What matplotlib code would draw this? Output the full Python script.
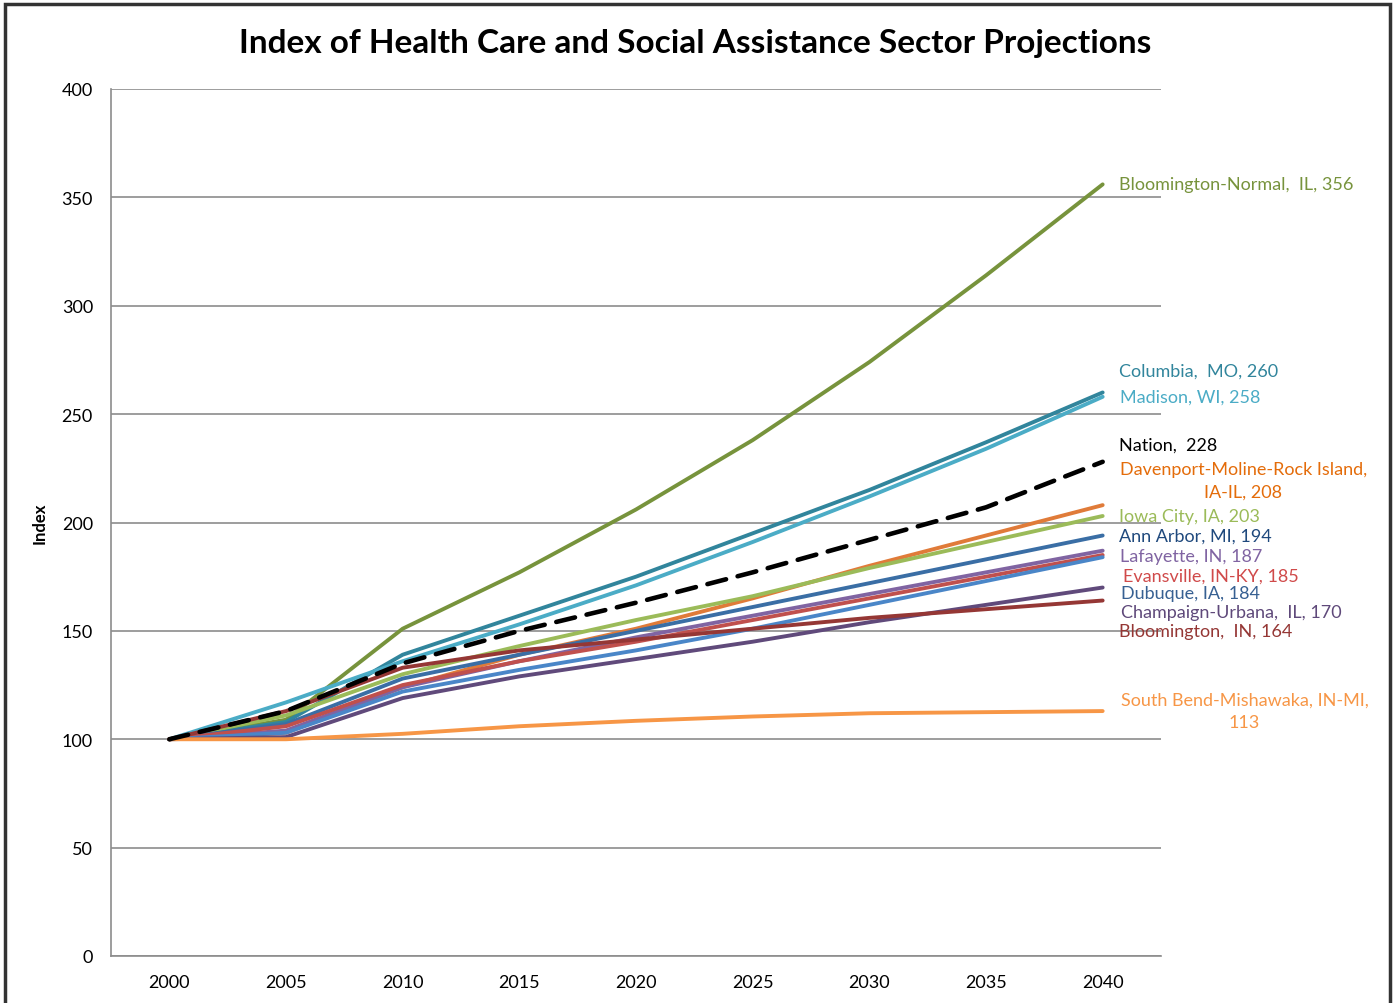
import matplotlib
matplotlib.use("Agg")
import matplotlib.pyplot as plt
from matplotlib.patches import Rectangle

plt.rcParams['font.family'] = ['Lato', 'DejaVu Sans']

years = [2000, 2005, 2010, 2015, 2020, 2025, 2030, 2035, 2040]

series_names = [
    "Bloomington-Normal", "Columbia", "Madison", "Davenport", "Iowa City",
    "Ann Arbor", "Lafayette", "Evansville", "Dubuque", "Champaign-Urbana",
    "Bloomington IN", "South Bend", "Nation",
]

bloomington_normal = [100, 109, 151, 177, 206, 238, 274, 314, 356]
columbia = [100, 108, 139, 157, 175, 195, 215, 237, 260]
madison = [100, 117, 136, 153, 171, 191, 212, 234, 258]
davenport = [100, 103, 124, 139, 151, 165, 180, 194, 208]
iowa_city = [100, 111, 130, 143, 155, 166, 179, 191, 203]
ann_arbor = [100, 107, 128, 139, 150, 161, 172, 183, 194]
lafayette = [100, 104, 124, 136, 147, 157, 167, 177, 187]
evansville = [100, 106, 125, 136, 145, 155, 165, 175, 185]
dubuque = [100, 103, 122, 132, 141, 151, 162, 173, 184]
champaign = [100, 101, 119, 129, 137, 145, 154, 162, 170]
bloomington_in = [100, 113, 133, 141, 146, 151, 156, 160, 164]
south_bend = [100, 100, 102.5, 106, 108.5, 110.5, 112, 112.5, 113]
nation = [100, 113, 135, 150, 163, 177, 192, 207, 228]

labels = [
    "Bloomington-Normal,  IL, 356",
    "Columbia,  MO, 260",
    "Madison, WI, 258",
    "Davenport-Moline-Rock Island,\nIA-IL, 208",
    "Iowa City, IA, 203",
    "Ann Arbor, MI, 194",
    "Lafayette, IN, 187",
    "Evansville, IN-KY, 185",
    "Dubuque, IA, 184",
    "Champaign-Urbana,  IL, 170",
    "Bloomington,  IN, 164",
    "South Bend-Mishawaka, IN-MI,\n113",
    "Nation,  228",
]

values = [bloomington_normal, columbia, madison, davenport, iowa_city,
          ann_arbor, lafayette, evansville, dubuque, champaign,
          bloomington_in, south_bend, nation]

line_colors = ["#77933C", "#31859C", "#4BACC6", "#E07B39", "#9BBB59",
               "#3A6EA5", "#8064A2", "#C0504D", "#4A86C8", "#604A7B",
               "#953735", "#F79646", "#000000"]
label_colors = ["#77933C", "#31859C", "#4BACC6", "#E46C0A", "#9BBB59",
                "#1F497D", "#8064A2", "#D04A4A", "#376092", "#5F497A",
                "#953735", "#F79646", "#000000"]

# label layout: y position (data units) of label centre, x offset (px)
label_y = [356, 270, 258, 219.5, 203, 194, 184.5, 175.5, 167.5, 158.5, 150, 113, 236]
label_x_off = [16, 16, 17, 17, 16, 16, 17, 20, 18, 18, 16, 18, 16]
label_multi_center = [False, False, False, True, False, False, False, False,
                      False, False, False, True, False]

fig = plt.figure(figsize=(13.93, 10.04), dpi=100)
ax = fig.add_axes([111 / 1393, 1 - 957 / 1004, 1050 / 1393, 867 / 1004])

for i, (name, vals) in enumerate(zip(series_names, values)):
    if name == "Nation":
        ax.plot(years, vals, color=line_colors[i], lw=3.3, ls=(0, (4.2, 2.6)),
                solid_capstyle='round', dash_capstyle='round', zorder=5)
    else:
        ax.plot(years, vals, color=line_colors[i], lw=2.8,
                solid_capstyle='round', zorder=3)

for i in range(len(labels)):
    ax.annotate(labels[i], xy=(2040, label_y[i]), xytext=(label_x_off[i], 0),
                textcoords='offset pixels', ha='left', va='center',
                color=label_colors[i], fontsize=13,
                multialignment='center' if label_multi_center[i] else 'left',
                linespacing=1.5, annotation_clip=False)

ax.set_xlim(1997.5, 2042.5)
ax.set_ylim(0, 400)
ax.set_xticks(years)
ax.set_xticklabels([str(y) for y in years])
ax.set_yticks(range(0, 401, 50))
ax.tick_params(axis='both', length=0, labelsize=13, colors='#000000')
ax.tick_params(axis='y', pad=13)
ax.tick_params(axis='x', pad=13)
ax.grid(axis='y', color='#8C8C8C', lw=1.2, zorder=0)
ax.set_axisbelow(True)
for s in ['top', 'right']:
    ax.spines[s].set_visible(False)
for s in ['left', 'bottom']:
    ax.spines[s].set_color('#8C8C8C')
    ax.spines[s].set_linewidth(1.2)

ax.set_ylabel("Index", fontsize=12, fontweight='bold', labelpad=10)

fig.text(695 / 1393, 1 - 43 / 1004,
         "Index of Health Care and Social Assistance Sector Projections",
         ha='center', va='center', fontsize=24, fontweight='bold')

fig.patches.append(Rectangle((5 / 1393, -0.05), 1385 / 1393, 1.05 - 5 / 1004,
                             transform=fig.transFigure, fill=False,
                             edgecolor='#333333', lw=2.5, zorder=10))

fig.savefig("out.png", dpi=100)
